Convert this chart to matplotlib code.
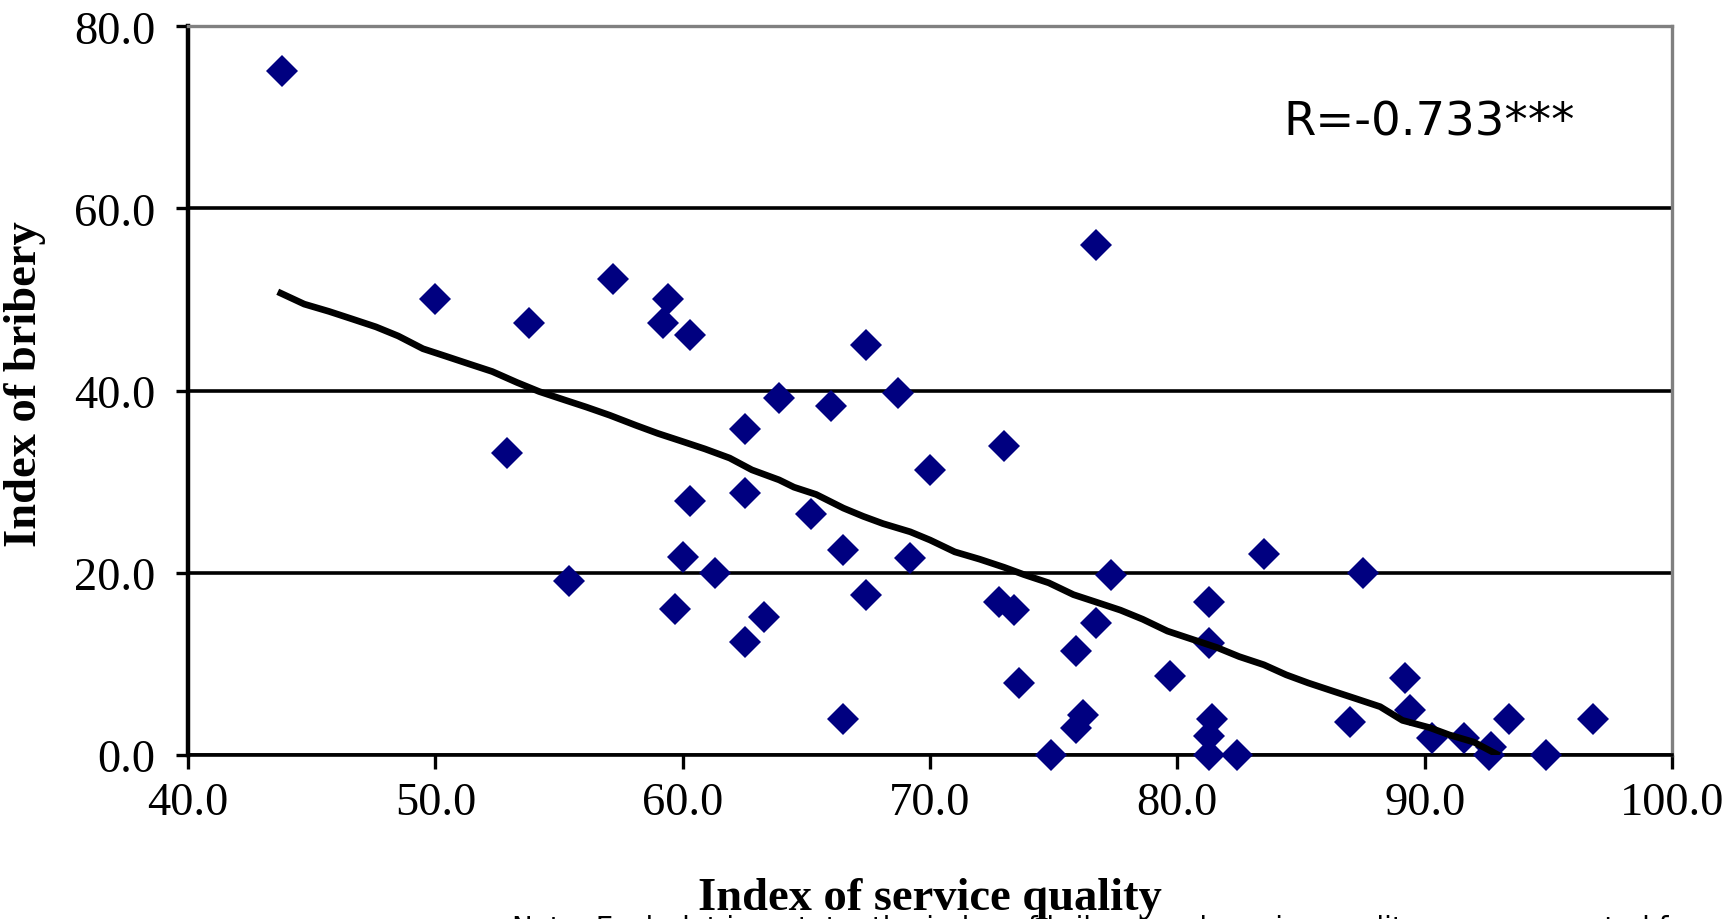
import matplotlib.pyplot as plt

# scatter values (index of service quality, index of bribery)
service_quality = [43.8, 50.0, 52.9, 53.8, 55.4, 57.2, 59.2, 59.4, 59.7, 60.0,
                   60.3, 60.3, 61.3, 62.5, 62.5, 62.5, 63.3, 63.9, 65.2, 66.0,
                   66.5, 66.5, 67.4, 67.4, 68.7, 69.2, 70.0, 72.8, 73.0, 73.4,
                   73.6, 74.9, 75.9, 75.9, 76.2, 76.7, 76.7, 77.3, 79.7, 81.3,
                   81.3, 81.4, 81.3, 81.3, 82.4, 83.5, 87.0, 87.5, 89.2, 89.4,
                   90.3, 91.6, 92.6, 92.7, 93.4, 94.9, 96.8]
bribery = [75.1, 50.1, 33.2, 47.4, 19.1, 52.3, 47.4, 50.1, 16.0, 21.7,
           46.1, 27.9, 20.0, 35.8, 28.8, 12.4, 15.1, 39.2, 26.5, 38.3,
           22.5, 3.9, 45.0, 17.6, 39.7, 21.6, 31.3, 16.8, 33.9, 15.9,
           7.9, 0.0, 11.4, 3.0, 4.4, 56.0, 14.5, 19.8, 8.7, 16.8,
           12.3, 3.9, 2.1, 0.0, 0.0, 22.1, 3.6, 20.0, 8.4, 4.9,
           1.9, 1.9, 0.0, 0.9, 4.0, 0.0, 4.0]

# smoothed trend line
trend_x = [43.75, 44.7, 45.7, 46.6, 47.6, 48.5, 49.5, 50.4, 51.4, 52.3,
           53.3, 54.2, 55.2, 56.1, 57.05, 58.1, 59.0, 59.9, 60.9, 61.9,
           62.8, 63.9, 64.5, 65.4, 66.5, 67.3, 68.1, 69.2, 70.0, 71.0,
           72.0, 73.0, 73.8, 74.8, 75.8, 76.7, 77.7, 78.6, 79.6, 80.6,
           81.6, 82.5, 83.5, 84.4, 85.3, 86.3, 87.2, 88.2, 89.1, 90.2,
           91.0, 92.0, 92.9]
trend_y = [50.7, 49.5, 48.7, 47.9, 47.0, 46.0, 44.6, 43.8, 42.9, 42.1,
           40.9, 39.9, 39.0, 38.2, 37.3, 36.2, 35.3, 34.5, 33.6, 32.6,
           31.3, 30.2, 29.4, 28.6, 27.1, 26.2, 25.4, 24.5, 23.6, 22.3,
           21.5, 20.6, 19.8, 18.9, 17.6, 16.8, 15.9, 14.9, 13.6, 12.7,
           11.8, 10.8, 9.9, 8.8, 7.9, 7.0, 6.2, 5.3, 3.8, 3.0,
           2.2, 1.4, 0.1]

x_ticks = [40, 50, 60, 70, 80, 90, 100]
x_tick_labels = ['40.0', '50.0', '60.0', '70.0', '80.0', '90.0', '100.0']
y_ticks = [0, 20, 40, 60, 80]
y_tick_labels = ['0.0', '20.0', '40.0', '60.0', '80.0']

r_label = 'R=-0.733***'
note = ('Note: Each dot is a state; the index of bribery and service quality are '
        'represented from the public services survey in India')

serif = 'Liberation Serif'

fig = plt.figure(figsize=(17.28, 9.2), dpi=100)
ax = fig.add_axes([0.1088, 0.1783, 0.8588, 0.792])

ax.yaxis.grid(True, color='black', linewidth=2.6)
ax.set_axisbelow(True)

ax.plot(service_quality, bribery, linestyle='none', marker='D', markersize=16,
        markerfacecolor='#000080', markeredgewidth=0, clip_on=False, zorder=3)
ax.plot(trend_x, trend_y, color='black', linewidth=4.8, zorder=4)

ax.set_xlim(40, 100)
ax.set_ylim(0, 80)
ax.set_xticks(x_ticks)
ax.set_xticklabels(x_tick_labels, fontfamily=serif, fontsize=33.5)
ax.set_yticks(y_ticks)
ax.set_yticklabels(y_tick_labels, fontfamily=serif, fontsize=33.5)
ax.tick_params(axis='x', direction='out', length=10, width=2.4, pad=9)
ax.tick_params(axis='y', direction='out', length=8.6, width=2.4, pad=15)

ax.spines['left'].set_linewidth(3.2)
ax.spines['bottom'].set_linewidth(2.6)
for side in ['top', 'right']:
    ax.spines[side].set_color('#808080')
    ax.spines[side].set_linewidth(2.4)

ax.set_xlabel('Index of service quality', fontfamily=serif, fontsize=33.5, fontweight='bold')
ax.xaxis.set_label_coords(0.5, -0.168)
ax.set_ylabel('Index of bribery', fontfamily=serif, fontsize=33.5, fontweight='bold')
ax.yaxis.set_label_coords(-0.096, 0.51)

ax.text(84.28, 68.1, r_label, fontfamily='DejaVu Sans', fontsize=33.5, ha='left', va='baseline')

# note sits mostly below the bottom edge, as in the original
fig.text(0.2963, -0.018, note, fontfamily='DejaVu Sans', fontsize=20, ha='left', va='baseline')

fig.savefig('out.png', dpi=100)
